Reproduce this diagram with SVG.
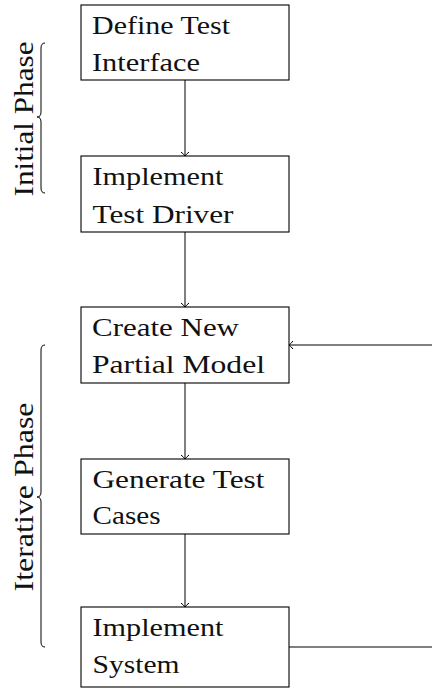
<svg xmlns="http://www.w3.org/2000/svg" width="432" height="690" viewBox="0 0 432 690">
  <style>
    .box { fill: #ffffff; stroke: #000000; stroke-width: 1.1; }
    .lbl { font-family: "Liberation Serif", "DejaVu Serif", serif; font-size: 25px; fill: #111111; }
    .phase { font-family: "Liberation Serif", "DejaVu Serif", serif; font-size: 28px; fill: #111111; text-anchor: middle; }
    .edge { fill: none; stroke: #000000; stroke-width: 1; }
    .brace { fill: none; stroke: #000000; stroke-width: 1; }
  </style>
  <defs>
    <marker id="arrow" viewBox="-6 -6 8 12" markerWidth="8" markerHeight="12" refX="0" refY="0" orient="auto" markerUnits="userSpaceOnUse">
      <path d="M-4,-4 Q-1.5,-1 0,0 Q-1.5,1 -4,4" fill="none" stroke="#000000" stroke-width="1"/>
    </marker>
  </defs>

  <!-- phase braces and labels -->
  <g id="phase-initial">
    <path class="brace" d="M45,43 Q41,43 41,48 V112 Q41,117 37,117 Q41,117 41,122 V188 Q41,193 45,193"/>
    <text class="phase" transform="translate(33,119) rotate(-90)" textLength="155" lengthAdjust="spacingAndGlyphs">Initial Phase</text>
  </g>
  <g id="phase-iterative">
    <path class="brace" d="M45,345 Q41,345 41,350 V492 Q41,497 37,497 Q41,497 41,502 V642 Q41,647 45,647"/>
    <text class="phase" transform="translate(33,497) rotate(-90)" textLength="189" lengthAdjust="spacingAndGlyphs">Iterative Phase</text>
  </g>

  <!-- connectors -->
  <g id="connectors">
    <path class="edge" d="M185,80 V156" marker-end="url(#arrow)"/>
    <path class="edge" d="M185,232 V307" marker-end="url(#arrow)"/>
    <path class="edge" d="M185,383 V459" marker-end="url(#arrow)"/>
    <path class="edge" d="M185,534 V607" marker-end="url(#arrow)"/>
    <path class="edge" d="M289,647 H440 V345 H289" marker-end="url(#arrow)"/>
  </g>

  <!-- process steps -->
  <g id="define-test-interface">
    <rect class="box" x="81" y="5" width="208" height="75"/>
    <text class="lbl" x="92" y="34" textLength="138" lengthAdjust="spacingAndGlyphs">Define Test</text>
    <text class="lbl" x="92" y="70.5" textLength="108" lengthAdjust="spacingAndGlyphs">Interface</text>
  </g>
  <g id="implement-test-driver">
    <rect class="box" x="81" y="156" width="208" height="76"/>
    <text class="lbl" x="92.5" y="185" textLength="131" lengthAdjust="spacingAndGlyphs">Implement</text>
    <text class="lbl" x="92.5" y="222.5" textLength="141" lengthAdjust="spacingAndGlyphs">Test Driver</text>
  </g>
  <g id="create-new-partial-model">
    <rect class="box" x="81" y="307" width="208" height="76"/>
    <text class="lbl" x="92" y="336" textLength="147" lengthAdjust="spacingAndGlyphs">Create New</text>
    <text class="lbl" x="92" y="372.5" textLength="173" lengthAdjust="spacingAndGlyphs">Partial Model</text>
  </g>
  <g id="generate-test-cases">
    <rect class="box" x="81" y="459" width="208" height="75"/>
    <text class="lbl" x="92.5" y="488" textLength="172" lengthAdjust="spacingAndGlyphs">Generate Test</text>
    <text class="lbl" x="92.5" y="524" textLength="68" lengthAdjust="spacingAndGlyphs">Cases</text>
  </g>
  <g id="implement-system">
    <rect class="box" x="81" y="607" width="208" height="80"/>
    <text class="lbl" x="92.5" y="636" textLength="131" lengthAdjust="spacingAndGlyphs">Implement</text>
    <text class="lbl" x="92.5" y="672.5" textLength="87" lengthAdjust="spacingAndGlyphs">System</text>
  </g>
</svg>
